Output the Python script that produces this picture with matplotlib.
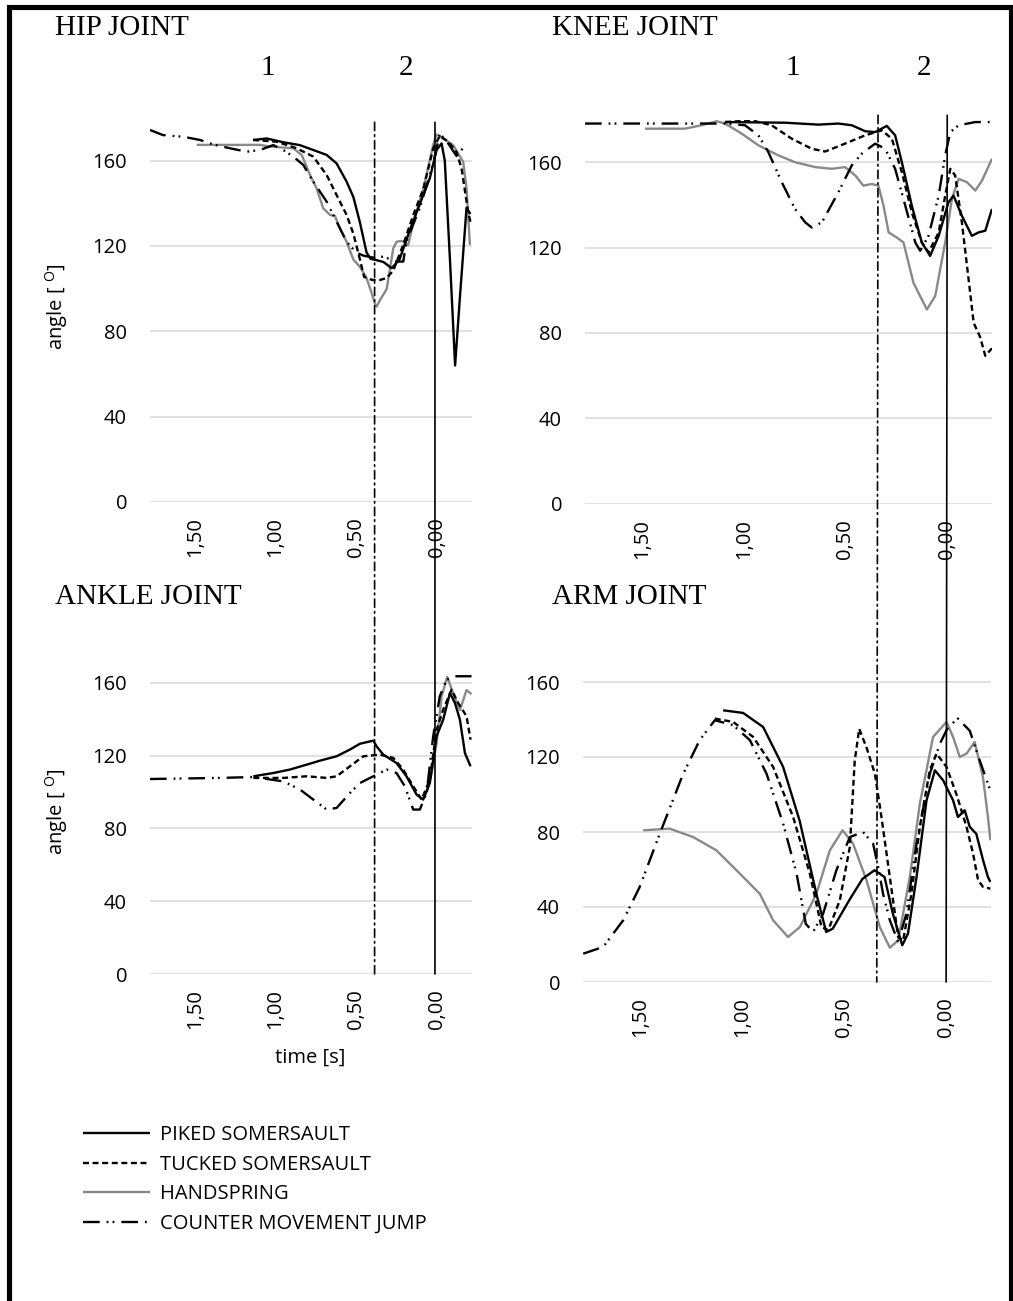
import matplotlib
matplotlib.use("Agg")
import matplotlib.pyplot as plt
from matplotlib.patches import Rectangle, ConnectionPatch

# --- data: time before take-off [s] and joint angle [deg] ---
x_ticks = [1.5, 1.0, 0.5, 0.0]
x_tick_labels = ["1,50", "1,00", "0,50", "0,00"]
y_ticks = [0, 40, 80, 120, 160]
series_names = ["PIKED SOMERSAULT", "TUCKED SOMERSAULT", "HANDSPRING", "COUNTER MOVEMENT JUMP"]

# HIP
hip_piked_t = [1.14, 1.055, 0.95, 0.85, 0.766, 0.683, 0.621, 0.559, 0.517, 0.476, 0.435, 0.41, 0.38, 0.33,
               0.279, 0.23, 0.166, 0.104, 0.042, 0.0, -0.031, -0.051, -0.083, -0.115, -0.145, -0.186, -0.21]
hip_piked_v = [169.7, 170.4, 168.6, 167.3, 165, 162.7, 158.7, 150.2, 143, 131, 117, 114, 113.5, 112.5,
               109.6, 113.7, 127.5, 139.7, 151.8, 165, 168.1, 160, 113.7, 64, 96, 137.9, 135]
hip_tucked_t = [1.14, 0.993, 0.869, 0.766, 0.683, 0.621, 0.559, 0.517, 0.476, 0.45, 0.40, 0.35, 0.31, 0.269,
                0.207, 0.145, 0.083, 0.021, -0.02, -0.072, -0.124, -0.155, -0.196, -0.211]
hip_tucked_v = [169.7, 168.9, 165.8, 161.9, 153.3, 143.9, 134.6, 125.8, 113.7, 105.5, 104.1, 104.1, 105, 108.5,
                120.6, 134.5, 146.6, 165.7, 171.6, 168.9, 164, 156.4, 136.1, 131]
hip_hand_t = [1.49, 1.262, 1.097, 1.035, 0.89, 0.838, 0.786, 0.745, 0.704, 0.662, 0.631, 0.6, 0.559, 0.517,
              0.476, 0.435, 0.404, 0.383, 0.372, 0.352, 0.31, 0.269, 0.248, 0.217, 0.176, 0.145, 0.083, 0.021,
              0.0, -0.05, -0.103, -0.165, -0.186, -0.207]
hip_hand_v = [167.4, 167.4, 167.4, 166.6, 165.8, 162.7, 153.3, 147, 137.7, 134.6, 134, 128.3, 122, 113.7,
              110.2, 105, 98.1, 93, 91.6, 94.6, 99.8, 118.9, 122, 122.4, 120.5, 131, 146.6, 167.4,
              172.3, 170, 167.3, 159.5, 147, 120.5]
hip_cmj_t = [1.78, 1.7, 1.573, 1.469, 1.387, 1.283, 1.18, 1.097, 1.014, 0.952, 0.89, 0.828, 0.766, 0.683,
             0.621, 0.559, 0.5, 0.455, 0.39, 0.331, 0.248, 0.207, 0.186, 0.104, 0.021, -0.02, -0.062, -0.124, -0.176]
hip_cmj_v = [174.4, 172, 171.2, 169.7, 167.6, 165.8, 164.2, 165, 167.3, 165, 161.9, 158, 150.2, 140.8,
             131.4, 122, 117, 115.5, 114.5, 115, 112.7, 112.7, 122.4, 137.9, 158.8, 172.6, 169.2, 162.2, 167]

# KNEE
knee_piked_t = [1.092, 0.797, 0.633, 0.535, 0.469, 0.403, 0.354, 0.297, 0.256, 0.223, 0.174, 0.125, 0.084,
                0.042, -0.006, -0.031, -0.072, -0.121, -0.154, -0.187, -0.22]
knee_piked_v = [178.8, 178.5, 177.6, 178.1, 177.3, 174.5, 174.1, 177, 172.6, 160, 139.6, 122.4, 116.1,
                125.5, 141.2, 144.3, 134.9, 125.5, 127.1, 127.9, 138.1]
knee_tucked_t = [1.092, 0.961, 0.863, 0.764, 0.666, 0.6, 0.502, 0.403, 0.321, 0.272, 0.223, 0.174, 0.125,
                 0.092, 0.042, 0.01, -0.015, -0.039, -0.072, -0.105, -0.13, -0.162, -0.187, -0.22]
knee_tucked_v = [178.8, 179.6, 177.3, 171, 166.3, 165, 168.7, 172.6, 174.9, 171, 155.3, 136.5, 122.4,
                 117.7, 127.1, 144.3, 156.9, 153.8, 131.8, 105.1, 84.7, 78, 69.3, 72.8]
knee_hand_t = [1.485, 1.289, 1.207, 1.133, 1.092, 1.01, 0.928, 0.83, 0.748, 0.649, 0.567, 0.502, 0.452,
               0.412, 0.371, 0.338, 0.313, 0.288, 0.248, 0.215, 0.166, 0.1, 0.059, 0.01, -0.023, -0.056,
               -0.097, -0.138, -0.171, -0.22]
knee_hand_v = [175.7, 175.7, 177.3, 179.2, 178.1, 173.4, 167.9, 163.2, 160, 157.7, 156.9, 157.7, 153.8,
               149, 149.8, 149, 139.6, 127.1, 124.7, 122.4, 103.5, 91, 97.3, 122.4, 142.8, 152.2,
               150.6, 146.7, 151.4, 161.6]
knee_cmj_t = [1.78, 1.4, 1.092, 0.994, 0.928, 0.879, 0.813, 0.748, 0.698, 0.666, 0.616, 0.535, 0.469, 0.42,
              0.354, 0.305, 0.256, 0.206, 0.157, 0.133, 0.092, 0.042, 0.01, -0.015, -0.056, -0.138, -0.22]
knee_cmj_v = [178.1, 178.1, 178.1, 177.3, 172.6, 164.7, 150.6, 138.1, 131.8, 129.4, 131.8, 145.9, 158.5, 164,
              168.7, 166.3, 156.9, 139.6, 122.4, 118.5, 125.5, 144.3, 163.2, 174.1, 177.3, 178.8, 178.8]

# ANKLE
ankle_piked_t = [1.138, 1.014, 0.911, 0.807, 0.724, 0.621, 0.538, 0.476, 0.393, 0.373, 0.331, 0.249, 0.187,
                 0.124, 0.083, 0.042, 0.0, -0.041, -0.083, -0.114, -0.145, -0.176, -0.211]
ankle_piked_v = [108.7, 110.5, 112.4, 115.1, 117.3, 119.7, 123.4, 126.6, 128.3, 125.2, 120.6, 116, 108.7,
                 98.6, 95.9, 105, 130.7, 139.8, 154.5, 149, 139.8, 121.5, 114.2]
ankle_tucked_t = [1.138, 0.952, 0.807, 0.683, 0.621, 0.538, 0.455, 0.352, 0.269, 0.207, 0.145, 0.093, 0.042,
                  0.0, -0.041, -0.093, -0.134, -0.186, -0.211]
ankle_tucked_v = [107.8, 107.8, 108.7, 107.8, 108.7, 114.2, 119.7, 120.6, 118.8, 112.4, 103.2, 95.9, 106.9,
                  134.3, 145.3, 156.3, 149, 141.7, 128.8]
ankle_hand_t = [0.06, 0.031, 0.0, -0.031, -0.066, -0.103, -0.145, -0.186, -0.217]
ankle_hand_v = [100, 110.5, 126.8, 152.5, 163.4, 154.3, 145.1, 156.1, 153.9]
ankle_cmj_t = [1.78, 1.345, 1.138, 0.952, 0.848, 0.766, 0.683, 0.621, 0.538, 0.476, 0.393, 0.311, 0.249,
               0.197, 0.145, 0.104, 0.062, 0.021, -0.02, -0.062, -0.124, -0.217]
ankle_cmj_v = [107.2, 107.8, 108.3, 105.9, 101.4, 95.9, 90.4, 91.3, 99.5, 105, 108.7, 112.4, 110.5,
               103.2, 90.4, 90.4, 99.5, 130.7, 152.7, 161.8, 163.7, 163.7]

# ARM
arm_piked_t = [1.093, 0.995, 0.897, 0.799, 0.718, 0.636, 0.588, 0.556, 0.475, 0.41, 0.351, 0.302, 0.261,
               0.215, 0.187, 0.145, 0.096, 0.055, 0.015, -0.034, -0.058, -0.091, -0.116, -0.148, -0.181,
               -0.205, -0.217]
arm_piked_v = [144.9, 143.5, 136, 114.7, 86, 47, 26.7, 28.4, 43.6, 55, 59.6, 56, 36.4,
               19.6, 25.8, 56, 96.9, 112.9, 107.6, 96.9, 88, 91.6, 82.7, 79, 65, 56, 53.3]
arm_tucked_t = [1.134, 1.044, 0.946, 0.848, 0.75, 0.668, 0.611, 0.578, 0.521, 0.472, 0.448, 0.426, 0.39,
                0.349, 0.317, 0.276, 0.235, 0.211, 0.17, 0.129, 0.08, 0.047, -0.002, -0.051, -0.1, -0.132,
                -0.157, -0.181, -0.217]
arm_tucked_v = [140.5, 138.7, 130.7, 114.7, 88, 57.8, 29.3, 27.6, 43.6, 72, 118, 135, 125,
                111, 88, 56, 24, 22, 47, 82.7, 113, 121.8, 114.7, 100, 82.7, 68.5, 54.2, 50.7, 49.8]
arm_hand_t = [1.485, 1.355, 1.24, 1.126, 1.011, 0.913, 0.848, 0.775, 0.717, 0.636, 0.57, 0.508, 0.456, 0.39,
              0.325, 0.276, 0.235, 0.178, 0.129, 0.064, -0.002, -0.034, -0.067, -0.1, -0.14, -0.181,
              -0.205, -0.217]
arm_hand_v = [80.9, 81.8, 77.3, 70.2, 57.8, 47, 32.9, 24, 29.3, 47, 70.2, 80.9, 73.8, 54.2,
              29.3, 18.3, 22.2, 56, 95, 130.7, 138.7, 130.7, 120, 121.8, 128, 109, 88, 75.6]
arm_cmj_t = [1.779, 1.681, 1.583, 1.502, 1.404, 1.289, 1.208, 1.134, 1.044, 0.962, 0.88, 0.799, 0.733,
             0.688, 0.652, 0.603, 0.538, 0.472, 0.407, 0.358, 0.333, 0.309, 0.276, 0.235, 0.195, 0.145,
             0.08, 0.031, -0.01, -0.058, -0.116, -0.165, -0.217]
arm_cmj_v = [15.1, 18.7, 32.9, 50.7, 79, 111, 129, 139.6, 137, 129, 111, 84.5, 57.8,
             31, 26.7, 36.4, 59.6, 77.3, 80, 73.8, 61.3, 47, 33, 21.3, 36.4, 73.8,
             111, 127, 136, 140.5, 134, 118, 102]

# phase boundaries (s) for each column of panels
left_phase = 0.385
left_takeoff = 0.01
right_phase = 0.34
right_takeoff = 0.0

# --- styles ---
plt.rcParams["lines.scale_dashes"] = False
sans = "Open Sans"
serif = "Liberation Serif"
tick_fs = 14.5
title_fs = 21
grey = "#898989"
styles = [
    dict(color="black", lw=1.7, ls="-"),
    dict(color="black", lw=1.7, ls=(0, (4.3, 2.6))),
    dict(color=grey, lw=1.7, ls="-"),
    dict(color="black", lw=1.7, ls=(0, (12, 5, 1.3, 3, 1.3, 5))),
]

W, H = 1013, 1301
fig = plt.figure(figsize=(W / 100, H / 100), dpi=100)


def px_axes(left, top, right, bottom):
    return fig.add_axes([left / W, 1 - bottom / H, (right - left) / W, (bottom - top) / H])


ax_hip = px_axes(150, 118, 472, 502)
ax_knee = px_axes(585, 119.5, 992, 503.7)
ax_ankle = px_axes(150, 646.6, 472, 974)
ax_arm = px_axes(583, 644.5, 991, 982)

panels = [
    (ax_hip, [(hip_piked_t, hip_piked_v), (hip_tucked_t, hip_tucked_v), (hip_hand_t, hip_hand_v), (hip_cmj_t, hip_cmj_v)]),
    (ax_knee, [(knee_piked_t, knee_piked_v), (knee_tucked_t, knee_tucked_v), (knee_hand_t, knee_hand_v), (knee_cmj_t, knee_cmj_v)]),
    (ax_ankle, [(ankle_piked_t, ankle_piked_v), (ankle_tucked_t, ankle_tucked_v), (ankle_hand_t, ankle_hand_v), (ankle_cmj_t, ankle_cmj_v)]),
    (ax_arm, [(arm_piked_t, arm_piked_v), (arm_tucked_t, arm_tucked_v), (arm_hand_t, arm_hand_v), (arm_cmj_t, arm_cmj_v)]),
]

handles = []
for ax, series in panels:
    ax.set_xlim(1.78, -0.22)
    ax.set_ylim(0, 180)
    ax.set_yticks(y_ticks)
    ax.set_xticks(x_ticks)
    ax.set_xticklabels(x_tick_labels, rotation=90, fontsize=tick_fs, family=sans)
    for lab in ax.get_yticklabels():
        lab.set_fontsize(tick_fs)
        lab.set_family(sans)
    ax.tick_params(length=0)
    ax.tick_params(axis="y", pad=16.5)
    ax.tick_params(axis="x", pad=11)
    for s in ax.spines.values():
        s.set_visible(False)
    ax.grid(axis="y", color="#d9d9d9", lw=1.1)
    ax.set_axisbelow(True)
    hs = []
    # draw handspring first so the black lines sit on top
    for i in [2, 0, 1, 3]:
        t, v = series[i]
        line, = ax.plot(t, v, **styles[i], solid_capstyle="butt", dash_capstyle="butt")
        hs.append((i, line))
    if not handles:
        handles = [l for i, l in sorted(hs, key=lambda p: p[0])]

# y-axis labels
for ax, yc in [(ax_hip, 0.508), (ax_ankle, 0.495)]:
    ax.set_ylabel("angle [ $^{\\mathregular{O}}$]", fontsize=tick_fs, family=sans)
    ax.yaxis.set_label_coords(-0.248, yc)
ax_ankle.text(0.497, -0.257, "time [s]", transform=ax_ankle.transAxes, ha="center", va="center",
              fontsize=tick_fs, family=sans)

# panel titles and phase numbers
fig.text(55 / W, 1 - 28 / H, "HIP JOINT", fontsize=title_fs, family=serif, va="center", ha="left")
fig.text(552 / W, 1 - 28 / H, "KNEE JOINT", fontsize=title_fs, family=serif, va="center", ha="left")
fig.text(55 / W, 1 - 597 / H, "ANKLE JOINT", fontsize=title_fs, family=serif, va="center", ha="left")
fig.text(552 / W, 1 - 597 / H, "ARM JOINT", fontsize=title_fs, family=serif, va="center", ha="left")
for x, s in [(268, "1"), (406, "2"), (793, "1"), (924, "2")]:
    fig.text(x / W, 1 - 68 / H, s, fontsize=title_fs, family=serif, va="center", ha="center")

# phase lines running through both panels of a column
for top, bot, tp, tt, ytop in [(ax_hip, ax_ankle, left_phase, left_takeoff, 178),
                               (ax_knee, ax_arm, right_phase, right_takeoff, 182)]:
    for t, ls in [(tp, (0, (6, 3, 1.2, 3))), (tt, "-")]:
        cp = ConnectionPatch(xyA=(t, ytop), coordsA=top.transData, xyB=(t, 0), coordsB=bot.transData,
                             color="black", lw=1.2, linestyle=ls)
        fig.add_artist(cp)

# legend
fig.legend(handles, series_names, loc="upper left", bbox_to_anchor=(83 / W, 1 - 1125 / H),
           frameon=False, borderpad=0, borderaxespad=0, handlelength=3.35, handletextpad=0.45,
           labelspacing=0.48, prop={"family": sans, "size": tick_fs})

# outer frame
fig.add_artist(Rectangle((8.5 / W, -0.05), 1002 / W, 1.05 - 7.5 / H, transform=fig.transFigure,
                         fill=False, lw=3.7, edgecolor="black"))

fig.savefig("out.png", dpi=100)
